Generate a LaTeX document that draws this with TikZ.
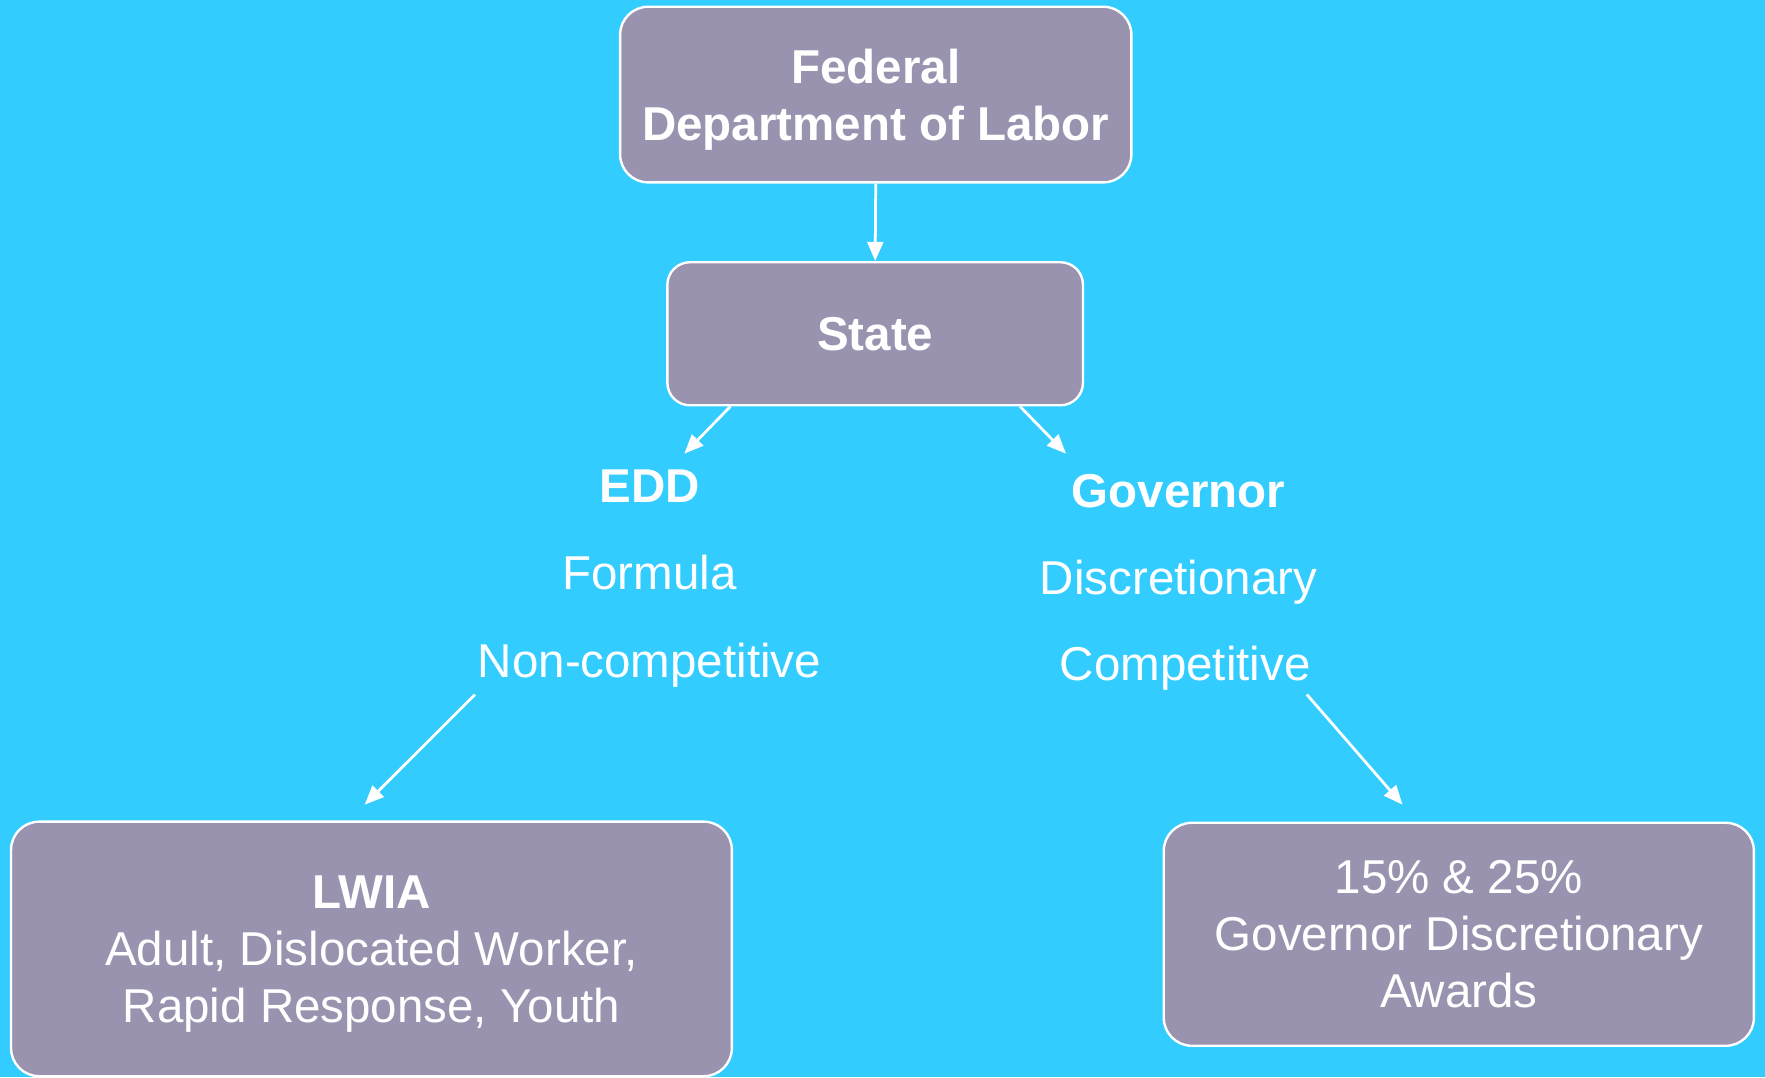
\documentclass[tikz,border=0pt]{standalone}
\usepackage{fontspec}
\setmainfont{Liberation Sans}
\usetikzlibrary{arrows.meta}
\definecolor{skyback}{HTML}{33CCFF}
\definecolor{boxfill}{HTML}{9A93B0}
\begin{document}
\begin{tikzpicture}[x=0.01cm,y=-0.01cm]
\useasboundingbox (0,0) rectangle (1568,957);
\fill[skyback] (0,0) rectangle (1568,957);
\begin{scope}[every node/.style={rounded corners=0.25cm,draw=white,line width=0.6pt,fill=boxfill,
              text=white,align=center,font=\fontsize{12}{14.4}\selectfont}]
    \node[minimum width=4.54cm,minimum height=1.56cm,text depth=0pt,font=\bfseries\fontsize{12}{14.4}\selectfont] (F) at (778,84) {Federal\\Department of Labor};
    \node[minimum width=3.69cm,minimum height=1.27cm,rounded corners=0.2cm,font=\bfseries\fontsize{12}{14.4}\selectfont] (S) at (777.5,296.5) {State};
    \node[minimum width=6.4cm,minimum height=2.26cm,text depth=-0.12cm] (L) at (330,843) {\textbf{LWIA}\\Adult, Dislocated Worker,\\Rapid Response, Youth};
    \node[minimum width=5.24cm,minimum height=1.98cm] (R) at (1296,830) {15\% \& 25\%\\Governor Discretionary\\Awards};
\end{scope}

\begin{scope}[every node/.style={text=white,inner sep=0pt,font=\fontsize{12}{14.4}\selectfont}]
    \node[font=\bfseries\fontsize{12}{14.4}\selectfont] (E) at (577,432) {EDD};
    \node (Fo) at (577,509) {Formula};
    \node (N) at (577,591) {Non-competitive};
    \node[font=\bfseries\fontsize{12}{14.4}\selectfont] (G) at (1047,436) {Governor};
    \node (D) at (1047,517) {Discretionary};
    \node (C) at (1053,594) {Competitive};
\end{scope}

\begin{scope}[>={Triangle[length=0.17cm,width=0.14cm]},
              every edge/.style={draw=white,line width=0.7pt}]
              \path [->] (F.south) edge (S.north);
              \path [->] ([shift={(57,0)}]S.south west) edge ([shift={(31,-29)}]E.center);
              \path [->] ([shift={(-57,0)}]S.south east) edge ([shift={(-100,-33)}]G.center);
              \path [->] ([shift={(-155,26)}]N.center) edge ([shift={(-6,-14)}]L.north);
              \path [->] ([shift={(108,23)}]C.center) edge ([shift={(-50,-15)}]R.north);
\end{scope}
\end{tikzpicture}
\end{document}
